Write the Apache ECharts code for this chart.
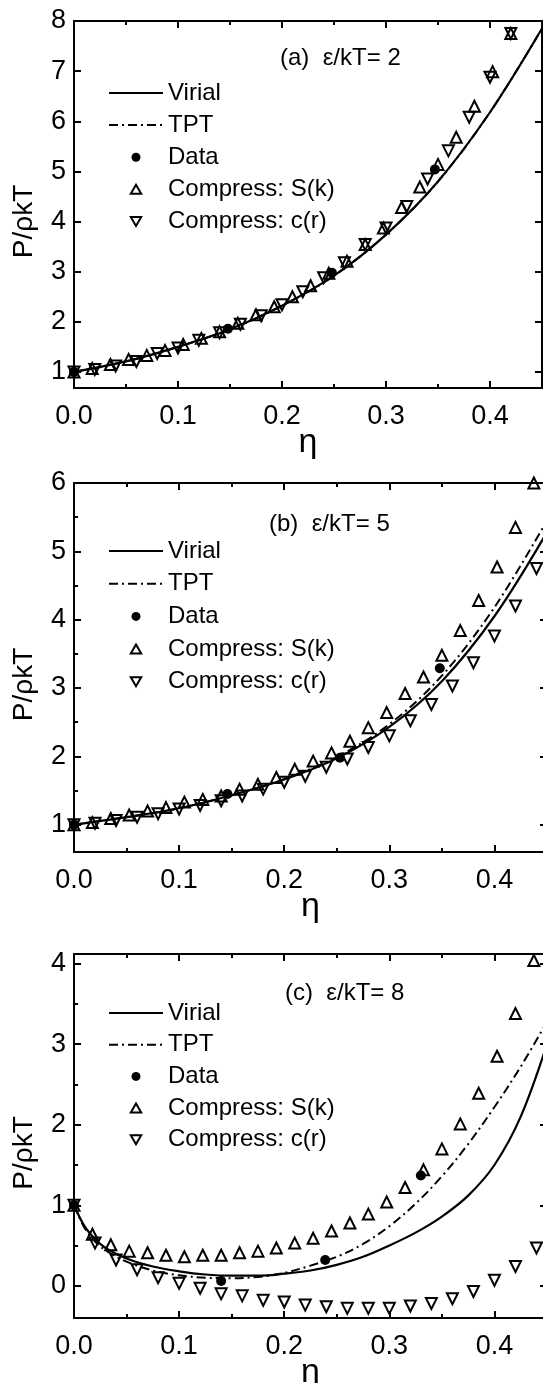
<!DOCTYPE html>
<html>
<head>
<meta charset="utf-8">
<script src="https://cdn.jsdelivr.net/npm/echarts@6/dist/echarts.min.js"></script>
<style>
  html, body { margin: 0; padding: 0; background: #fff; }
  #chart { width: 543px; height: 1383px; }
</style>
</head>
<body>
<div id="chart"></div>
<script>
// ---------- tick values ----------
const xMajor = [0, 0.1, 0.2, 0.3, 0.4];
const xMinor = [0.05, 0.15, 0.25, 0.35];
const yMajorA = [1, 2, 3, 4, 5, 6, 7, 8];
const yMajorB = [1, 2, 3, 4, 5, 6];
const yMinorB = [1.5, 2.5, 3.5, 4.5, 5.5];
const yMajorC = [0, 1, 2, 3, 4];
const yMinorC = [0.5, 1.5, 2.5, 3.5];

// ---------- packing fractions ----------
const etaCurveAB = [0, 0.05, 0.1, 0.15, 0.2, 0.25, 0.3, 0.35, 0.4, 0.45];
const etaCurveC = [0, 0.01, 0.02, 0.03, 0.05, 0.075, 0.1, 0.125, 0.15, 0.175, 0.2,
                   0.225, 0.25, 0.275, 0.3, 0.325, 0.35, 0.375, 0.4, 0.425, 0.45];
const etaS = [0, 0.0175, 0.035, 0.0525, 0.07, 0.0875, 0.105, 0.1225, 0.14, 0.1575, 0.175,
              0.1925, 0.21, 0.2275, 0.245, 0.2625, 0.28, 0.2975, 0.315, 0.3325, 0.35,
              0.3675, 0.385, 0.4025, 0.42, 0.4375];
const etaC = [0, 0.02, 0.04, 0.06, 0.08, 0.1, 0.12, 0.14, 0.16, 0.18, 0.2, 0.22, 0.24,
              0.26, 0.28, 0.3, 0.32, 0.34, 0.36, 0.38, 0.4, 0.42, 0.44];

// ---------- (a) eps/kT = 2 ----------
const virialA = [1.00, 1.21, 1.50, 1.85, 2.32, 2.92, 3.74, 4.80, 6.18, 7.85];
const tptA    = [1.00, 1.21, 1.50, 1.85, 2.32, 2.92, 3.74, 4.80, 6.18, 7.85];
const dataEtaA = [0, 0.148, 0.248, 0.347];
const dataA    = [1.00, 1.86, 2.98, 5.04];
const sA = [1.00, 1.07, 1.15, 1.25, 1.33, 1.43, 1.55, 1.67, 1.80, 1.97, 2.14, 2.30, 2.50,
            2.72, 2.97, 3.21, 3.54, 3.87, 4.28, 4.69, 5.14, 5.68, 6.30, 6.99, 7.75];
const cA = [1.00, 1.05, 1.12, 1.21, 1.37, 1.48, 1.63, 1.78, 1.95, 2.12, 2.34, 2.60, 2.88,
            3.18, 3.54, 3.87, 4.30, 4.85, 5.41, 6.08, 6.88, 7.75];

// ---------- (b) eps/kT = 5 ----------
const virialB = [1.00, 1.11, 1.24, 1.43, 1.66, 1.97, 2.43, 3.10, 4.05, 5.28];
const tptB    = [1.00, 1.11, 1.24, 1.43, 1.67, 1.99, 2.47, 3.18, 4.18, 5.45];
const dataEtaB = [0, 0.146, 0.253, 0.348];
const dataB    = [1.00, 1.45, 1.98, 3.29];
const sB = [1.00, 1.03, 1.09, 1.14, 1.20, 1.25, 1.33, 1.37, 1.42, 1.52, 1.59, 1.69, 1.81,
            1.93, 2.05, 2.22, 2.42, 2.64, 2.92, 3.16, 3.48, 3.84, 4.28, 4.77, 5.35, 6.00];
const cB = [1.00, 1.02, 1.06, 1.11, 1.16, 1.23, 1.28, 1.35, 1.42, 1.52, 1.62, 1.71, 1.84,
            1.96, 2.13, 2.30, 2.52, 2.76, 3.03, 3.37, 3.76, 4.20, 4.75];

// ---------- (c) eps/kT = 8 ----------
const virialC = [1.00, 0.74, 0.58, 0.47, 0.34, 0.24, 0.18, 0.14, 0.125, 0.125, 0.15,
                 0.19, 0.26, 0.36, 0.50, 0.66, 0.86, 1.12, 1.50, 2.10, 3.00];
const tptC    = [1.00, 0.72, 0.55, 0.44, 0.30, 0.19, 0.13, 0.10, 0.095, 0.11, 0.16,
                 0.25, 0.36, 0.52, 0.74, 1.02, 1.36, 1.76, 2.22, 2.72, 3.28];
const dataEtaC = [0, 0.14, 0.239, 0.33];
const dataC    = [1.00, 0.06, 0.32, 1.37];
const sC = [1.00, 0.64, 0.51, 0.43, 0.41, 0.38, 0.36, 0.38, 0.38, 0.41, 0.43, 0.47, 0.53,
            0.59, 0.68, 0.78, 0.89, 1.04, 1.22, 1.44, 1.70, 2.01, 2.39, 2.85, 3.38, 4.04];
const cC = [1.00, 0.53, 0.32, 0.20, 0.10, 0.03, -0.03, -0.10, -0.125, -0.18, -0.20, -0.24,
            -0.26, -0.28, -0.28, -0.28, -0.25, -0.22, -0.16, -0.07, 0.07, 0.24, 0.47];

const seriesNames = ['Virial', 'TPT', 'Data', 'Compress: S(k)', 'Compress: c(r)'];
const panelTitles = ['(a)  \u03b5/kT= 2', '(b)  \u03b5/kT= 5', '(c)  \u03b5/kT= 8'];

// ---------- fonts ----------
const FONT = '"Liberation Sans", Arial, Helvetica, sans-serif';
function fontAvailable(name) {
  const ctx = document.createElement('canvas').getContext('2d');
  const s = 'Compress: S(k) 0123456789';
  ctx.font = '40px monospace';
  const w0 = ctx.measureText(s).width;
  ctx.font = '40px "' + name + '", monospace';
  return ctx.measureText(s).width !== w0;
}
const hasNarrow = fontAvailable('Liberation Sans Narrow');
const TEXT_FONT = hasNarrow ? '"Liberation Sans Narrow", ' + FONT : FONT;
const TEXT_SIZE = hasNarrow ? 28 : 24;

// ---------- layout of the three panels ----------
const panels = [
  { top: 21,  height: 367, right: 1,  yMin: 0.68, yMax: 8,    yMajor: yMajorA, yMinor: [],
    curveEta: etaCurveAB, virial: virialA, tpt: tptA, dEta: dataEtaA, data: dataA, s: sA, c: cA,
    titleLeft: 280, titleTop: 44, legendTop: 79, legendGap: 4.1 },
  { top: 483, height: 369, right: -4, yMin: 0.6,  yMax: 6,    yMajor: yMajorB, yMinor: yMinorB,
    curveEta: etaCurveAB, virial: virialB, tpt: tptB, dEta: dataEtaB, data: dataB, s: sB, c: cB,
    titleLeft: 269, titleTop: 510, legendTop: 537, legendGap: 4.7 },
  { top: 954, height: 364, right: -4, yMin: -0.4, yMax: 4.12, yMajor: yMajorC, yMinor: yMinorC,
    curveEta: etaCurveC, virial: virialC, tpt: tptC, dEta: dataEtaC, data: dataC, s: sC, c: cC,
    titleLeft: 285, titleTop: 979, legendTop: 999, legendGap: 3.7 }
];

const pairs = (xs, ys) => ys.map((y, i) => [xs[i], y]);
const BLACK = '#000';
const UP = 'path://M5,0L10,8.66L0,8.66Z';
const DOWN = 'path://M0,0L10,0L5,8.66Z';
const hollow = { color: 'rgba(0,0,0,0)', borderColor: BLACK, borderWidth: 2, opacity: 1 };

const grids = [], xAxes = [], yAxes = [], series = [], legends = [], titles = [];

panels.forEach((p, gi) => {
  grids.push({ left: 74, right: p.right, top: p.top, height: p.height,
               containLabel: false, outerBoundsMode: 'none', show: false });

  const xBase = { gridIndex: gi, type: 'value', min: 0, max: 0.45,
                  splitLine: { show: false }, minorTick: { show: false } };
  const tick = (vals, len) => ({ show: true, inside: true, length: len, customValues: vals,
                                 lineStyle: { color: BLACK, width: 2 } });
  const axLine = { show: true, onZero: false, lineStyle: { color: BLACK, width: 2 } };
  const noLine = { show: false, onZero: false };

  const xi = xAxes.length;
  xAxes.push(
    Object.assign({}, xBase, { position: 'bottom', axisLine: axLine, axisTick: tick(xMajor, 7),
      axisLabel: { show: true, customValues: xMajor, margin: 15, formatter: v => v.toFixed(1),
                   fontFamily: FONT, fontSize: 27, color: BLACK },
      name: '\u03b7', nameLocation: 'middle', nameGap: 38, nameMoveOverlap: false,
      nameTextStyle: { fontFamily: FONT, fontSize: 34, color: BLACK } }),
    Object.assign({}, xBase, { position: 'bottom', axisLine: noLine, axisTick: tick(xMinor, 4),
      axisLabel: { show: false } }),
    Object.assign({}, xBase, { position: 'top', axisLine: axLine, axisTick: tick(xMajor, 7),
      axisLabel: { show: false } }),
    Object.assign({}, xBase, { position: 'top', axisLine: noLine, axisTick: tick(xMinor, 4),
      axisLabel: { show: false } })
  );

  const yBase = { gridIndex: gi, type: 'value', min: p.yMin, max: p.yMax,
                  splitLine: { show: false }, minorTick: { show: false } };
  const yi = yAxes.length;
  yAxes.push(
    Object.assign({}, yBase, { position: 'left', axisLine: axLine, axisTick: tick(p.yMajor, 7),
      axisLabel: { show: true, customValues: p.yMajor, margin: 8, formatter: v => String(v),
                   fontFamily: FONT, fontSize: 27, color: BLACK },
      name: 'P/\u03c1kT', nameLocation: 'middle', nameRotate: 90, nameGap: 36, nameMoveOverlap: false,
      nameTextStyle: { fontFamily: FONT, fontSize: 28, color: BLACK, padding: [0, 34, 0, 0] } }),
    Object.assign({}, yBase, { position: 'right', axisLine: axLine, axisTick: tick(p.yMajor, 7),
      axisLabel: { show: false } })
  );
  if (p.yMinor.length) {
    yAxes.push(
      Object.assign({}, yBase, { position: 'left', axisLine: noLine, axisTick: tick(p.yMinor, 4),
        axisLabel: { show: false } }),
      Object.assign({}, yBase, { position: 'right', axisLine: noLine, axisTick: tick(p.yMinor, 4),
        axisLabel: { show: false } })
    );
  }

  const ax = { xAxisIndex: xi, yAxisIndex: yi };
  series.push(
    Object.assign({ type: 'line', name: 'TPT', data: pairs(p.curveEta, p.tpt), symbol: 'none',
      smooth: 0.35, lineStyle: { color: BLACK, width: 2, type: [9, 4, 2, 4] },
      itemStyle: { color: BLACK }, z: 2 }, ax),
    Object.assign({ type: 'line', name: 'Virial', data: pairs(p.curveEta, p.virial), symbol: 'none',
      smooth: 0.35, lineStyle: { color: BLACK, width: 2.2 }, itemStyle: { color: BLACK }, z: 3 }, ax),
    Object.assign({ type: 'scatter', name: 'Data', data: pairs(p.dEta, p.data), symbol: 'circle',
      symbolSize: 10, itemStyle: { color: BLACK, opacity: 1 }, z: 5 }, ax),
    Object.assign({ type: 'scatter', name: 'Compress: S(k)', data: pairs(etaS, p.s), symbol: UP,
      symbolSize: 11, itemStyle: hollow, z: 4 }, ax),
    Object.assign({ type: 'scatter', name: 'Compress: c(r)', data: pairs(etaC, p.c), symbol: DOWN,
      symbolSize: 11, itemStyle: hollow, z: 4 }, ax)
  );

  legends.push({
    orient: 'vertical', left: 108, top: p.legendTop, padding: 0,
    itemWidth: 54, itemHeight: 9, itemGap: p.legendGap, selectedMode: false,
    textStyle: { fontFamily: TEXT_FONT, fontSize: TEXT_SIZE, lineHeight: 28, color: BLACK },
    data: [
      { name: seriesNames[0], itemStyle: { opacity: 0 } },
      { name: seriesNames[1], itemStyle: { opacity: 0 } },
      seriesNames[2], seriesNames[3], seriesNames[4]
    ]
  });

  titles.push({ text: panelTitles[gi], left: p.titleLeft, top: p.titleTop, padding: 0,
    textStyle: { fontFamily: TEXT_FONT, fontSize: TEXT_SIZE, fontWeight: 'normal',
                 color: BLACK, lineHeight: 28 } });
});

const chart = echarts.init(document.getElementById('chart'), null, { renderer: 'canvas' });
chart.setOption({
  animation: false,
  backgroundColor: '#fff',
  title: titles,
  legend: legends,
  grid: grids,
  xAxis: xAxes,
  yAxis: yAxes,
  series: series
});
</script>
</body>
</html>
